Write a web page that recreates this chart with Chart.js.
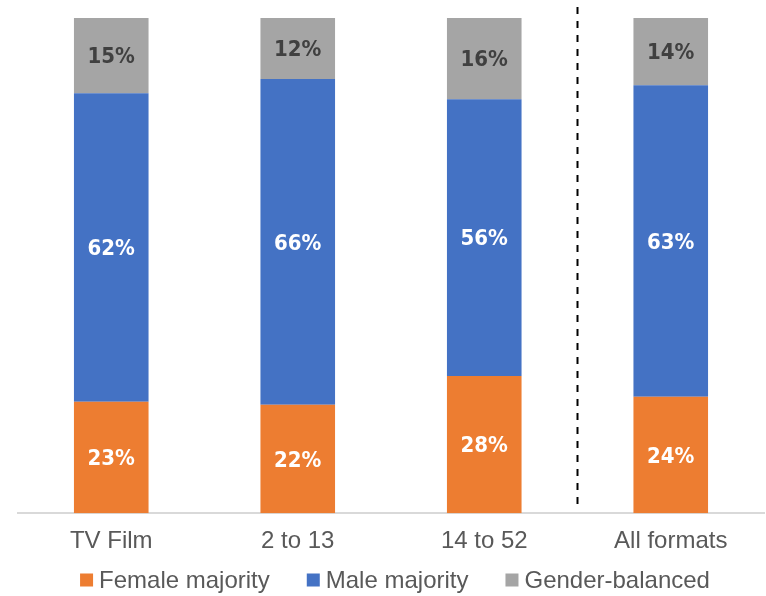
<!DOCTYPE html>
<html>
<head>
<meta charset="utf-8">
<script src="https://cdn.jsdelivr.net/npm/chart.js@4"></script>
<style>
  html, body { margin: 0; padding: 0; background: #fff; }
  #wrap { width: 766px; height: 596px; }
</style>
</head>
<body>
<div id="wrap"><canvas id="myChart"></canvas></div>
<script>
const categories = ['TV Film', '2 to 13', '14 to 52', 'All formats'];
const femaleMajority = [22.5, 21.9, 27.7, 23.5];
const maleMajority = [62.3, 65.8, 55.9, 62.9];
const genderBalanced = [15.2, 12.3, 16.4, 13.6];

// draws the percentage inside each segment
const segmentLabels = {
  id: 'segmentLabels',
  afterDatasetsDraw(chart) {
    const ctx = chart.ctx;
    ctx.save();
    ctx.font = 'bold 22px "DejaVu Sans Condensed", "DejaVu Sans"';
    ctx.textAlign = 'center';
    ctx.textBaseline = 'middle';
    chart.data.datasets.forEach((ds, i) => {
      chart.getDatasetMeta(i).data.forEach((bar, j) => {
        const mid = (bar.y + bar.base) / 2 + 2;
        ctx.fillStyle = ds.labelColor;
        ctx.fillText(Math.round(ds.data[j]) + '%', bar.x, mid);
      });
    });
    ctx.restore();
  }
};

// dashed separator before the "All formats" bar
const separator = {
  id: 'separator',
  afterDatasetsDraw(chart) {
    const x = chart.scales.x;
    const px = (x.getPixelForValue(2) + x.getPixelForValue(3)) / 2;
    const ctx = chart.ctx;
    ctx.save();
    ctx.strokeStyle = '#000';
    ctx.lineWidth = 2;
    ctx.setLineDash([7, 7]);
    ctx.beginPath();
    ctx.moveTo(px, 7);
    ctx.lineTo(px, chart.chartArea.bottom - 6);
    ctx.stroke();
    ctx.restore();
  }
};

// legend drawn by hand: Excel-style small squares close to the text
const bottomLegend = {
  id: 'bottomLegend',
  afterDraw(chart) {
    const ctx = chart.ctx;
    const box = 13, gap = 6, spacing = 37;
    ctx.save();
    ctx.font = '24px "Liberation Sans"';
    ctx.textBaseline = 'middle';
    const items = chart.data.datasets.map(ds => ({
      text: ds.label, color: ds.backgroundColor, w: ctx.measureText(ds.label).width
    }));
    let total = items.reduce((s, it) => s + box + gap + it.w, 0) + spacing * (items.length - 1);
    let x = (chart.chartArea.left + chart.chartArea.right) / 2 - total / 2 + 4;
    const y = chart.height - 15;
    items.forEach(it => {
      ctx.fillStyle = it.color;
      ctx.fillRect(x, y - box / 2 - 1, box, box);
      x += box + gap;
      ctx.fillStyle = '#595959';
      ctx.fillText(it.text, x, y);
      x += it.w + spacing;
    });
    ctx.restore();
  }
};

new Chart(document.getElementById('myChart'), {
  type: 'bar',
  data: {
    labels: categories,
    datasets: [
      { label: 'Female majority', data: femaleMajority, backgroundColor: '#ED7D31', labelColor: '#fff' },
      { label: 'Male majority', data: maleMajority, backgroundColor: '#4472C4', labelColor: '#fff' },
      { label: 'Gender-balanced', data: genderBalanced, backgroundColor: '#A5A5A5', labelColor: '#404040' }
    ]
  },
  options: {
    responsive: true,
    maintainAspectRatio: false,
    animation: false,
    layout: { padding: { top: 18, left: 18, right: 2, bottom: 26 } },
    datasets: { bar: { categoryPercentage: 1, barPercentage: 0.4 } },
    scales: {
      x: {
        stacked: true,
        grid: { display: false, drawTicks: false },
        border: { color: '#d9d9d9', width: 2 },
        ticks: { color: '#595959', padding: 14, font: { family: 'Liberation Sans', size: 24 } }
      },
      y: { stacked: true, display: false, min: 0, max: 100 }
    },
    plugins: {
      legend: { display: false },
      tooltip: { enabled: false }
    }
  },
  plugins: [segmentLabels, separator, bottomLegend]
});
</script>
</body>
</html>
